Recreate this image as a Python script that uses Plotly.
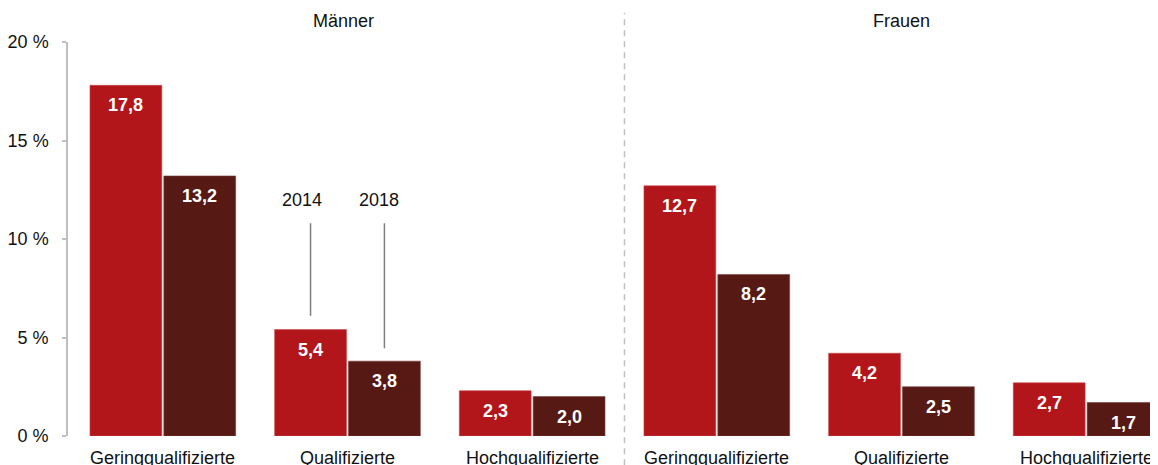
import plotly.graph_objects as go

groups = ["Männer", "Frauen"]
categories = ["Geringqualifizierte", "Qualifizierte", "Hochqualifizierte"]
years = ["2014", "2018"]
values_2014 = [17.8, 5.4, 2.3, 12.7, 4.2, 2.7]   # Männer x3, Frauen x3
values_2018 = [13.2, 3.8, 2.0, 8.2, 2.5, 1.7]
y_ticks = [0, 5, 10, 15, 20]
y_ticklabels = ["0 %", "5 %", "10 %", "15 %", "20 %"]

COL_2014 = "#B3161A"
COL_2018 = "#561913"
FONT = "Liberation Sans, Arial, sans-serif"

n = len(values_2014)
xs = list(range(n))
off = 0.2
bw = 0.389

def fmt(v):
    return f"{v:.1f}".replace(".", ",")

fig = go.Figure()
fig.add_trace(go.Bar(x=[i - off for i in xs], y=values_2014, width=bw, name=years[0],
                     marker=dict(color=COL_2014, line=dict(color="#c9474a", width=0.6)),
                     hoverinfo="y"))
fig.add_trace(go.Bar(x=[i + off for i in xs], y=values_2018, width=bw, name=years[1],
                     marker=dict(color=COL_2018, line=dict(color="#7a3f3a", width=0.6)),
                     hoverinfo="y"))

ann = []
for i in xs:
    ann.append(dict(x=i - off, y=values_2014[i], text=f"<b>{fmt(values_2014[i])}</b>", showarrow=False,
                    yanchor="middle", yshift=-20, font=dict(family=FONT, size=18, color="white")))
    ann.append(dict(x=i + off, y=values_2018[i], text=f"<b>{fmt(values_2018[i])}</b>", showarrow=False,
                    yanchor="middle", yshift=-20, font=dict(family=FONT, size=18, color="white")))
    ann.append(dict(x=i, y=0, text=categories[i % 3], showarrow=False, yanchor="top", yshift=-10,
                    font=dict(family=FONT, size=18, color="#111111")))

for gi, g in enumerate(groups):
    ann.append(dict(x=gi * 3 + 1, xshift=-4 if gi == 0 else 0, y=1.053, yref="paper", text=g,
                    showarrow=False, yanchor="middle",
                    font=dict(family=FONT, size=18, color="#111111")))

# year callouts over the Männer / Qualifizierte bars
ci = 1
line_top = 10.8
ann.append(dict(x=ci - off, y=12, text=years[0], showarrow=False, yanchor="middle", xshift=-9,
                font=dict(family=FONT, size=18, color="#111111")))
ann.append(dict(x=ci + off, y=12, text=years[1], showarrow=False, yanchor="middle", xshift=-5,
                font=dict(family=FONT, size=18, color="#111111")))

shapes = [
    dict(type="line", x0=ci - off, x1=ci - off, y0=values_2014[ci] + 0.7, y1=line_top,
         line=dict(color="#7f7f7f", width=1.5)),
    dict(type="line", x0=ci + off, x1=ci + off, y0=values_2018[ci] + 0.65, y1=line_top,
         line=dict(color="#7f7f7f", width=1.5)),
    dict(type="line", x0=2.5, x1=2.5, y0=-0.074, y1=1.074, yref="paper",
         line=dict(color="#c0c0c0", width=1.5, dash="6px,5px")),
]

px_per_unit = 185.0
x_left = -(161 - 66) / px_per_unit
x_right = x_left + (1158 - 66) / px_per_unit

# page body has an 8px margin, so the figure is shrunk and margins offset by 8px
fig.update_layout(
    width=1150, height=457,
    margin=dict(l=58, r=0, t=34, b=29),
    paper_bgcolor="white", plot_bgcolor="white",
    barmode="overlay", showlegend=False,
    font=dict(family=FONT, size=18, color="#111111"),
    xaxis=dict(range=[x_left, x_right], showticklabels=False, showgrid=False, zeroline=False,
               showline=False, ticks=""),
    yaxis=dict(range=[0, 20], tickvals=y_ticks, ticktext=y_ticklabels, showgrid=False,
               zeroline=False, showline=True, linecolor="#bfbfbf", linewidth=1.5,
               ticks="outside", ticklen=4, tickcolor="#bfbfbf", tickwidth=1.5,
               ticklabelstandoff=10, tickfont=dict(family=FONT, size=18, color="#111111")),
    annotations=ann, shapes=shapes,
)

fig.write_html("out.html")
